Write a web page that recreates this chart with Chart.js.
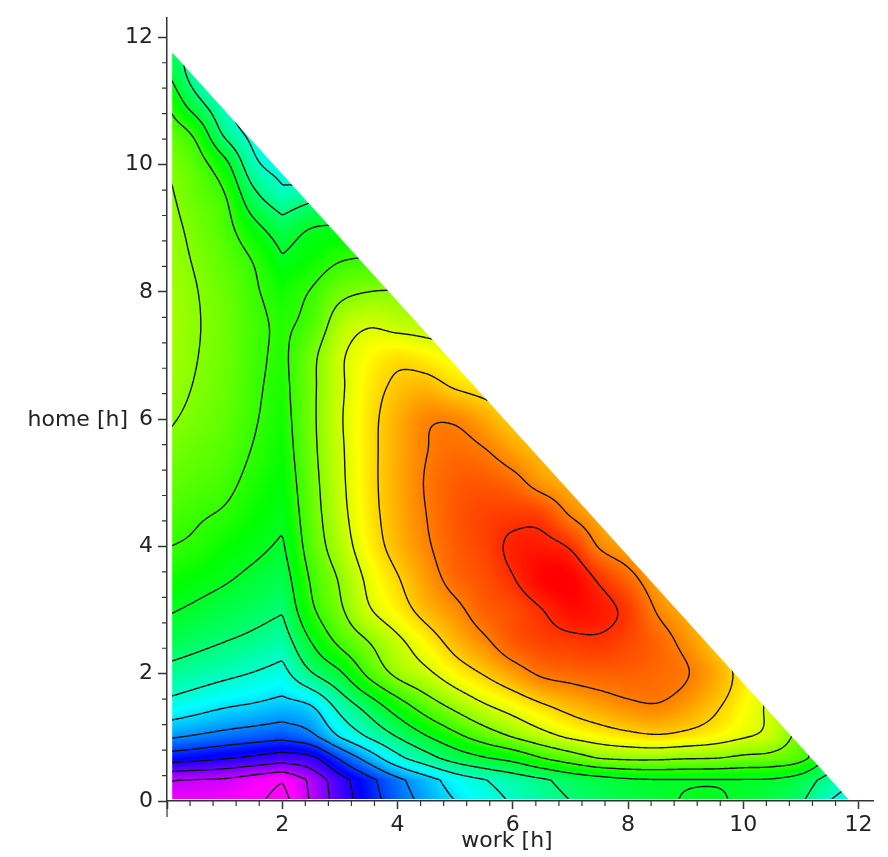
<!DOCTYPE html>
<html>
<head>
<meta charset="utf-8">
<title>work / home</title>
<script src="https://cdn.jsdelivr.net/npm/chart.js@4.4.1/dist/chart.umd.min.js"></script>
<style>
    html, body { margin: 0; padding: 0; background: #fff; }
    #chart { display: block; }
</style>
</head>
<body>
<canvas id="chart" width="888" height="857"></canvas>
<script>
// grid: one row per home value, one column per work value
const workHours = [0, 0.5, 1, 1.5, 2, 2.5, 3, 3.5, 4, 4.5, 5, 5.5, 6, 6.5, 7, 7.5, 8, 8.5, 9, 9.5, 10, 10.5, 11, 11.5, 12];
const homeHours = [0, 0.33, 0.67, 1, 1.5, 2, 2.5, 3, 3.5, 4, 4.5, 5, 5.5, 6, 6.5, 7, 7.5, 8, 8.5, 9, 9.5, 10, 10.5, 11, 11.5, 12];

// level of the surface at each grid node (contour lines sit on whole numbers)
const levelRows = [
    [0.4, 0.4, 0.35, 0.2, -0.4, 1.1, 2.45, 3.55, 4.5, 5.3, 6.0, 6.55, 7.1, 7.55, 8.0, 8.35, 8.6, 8.8, 9.05, 9.1, 8.85, 8.6, 8.1, 7.0, 6.5],
    [1.05, 0.95, 0.85, 0.45, 0.05, 1.2, 2.6, 3.7, 4.75, 5.6, 6.4, 6.95, 7.4, 7.85, 8.3, 8.6, 8.85, 8.95, 8.95, 8.95, 8.95, 8.9, 8.5, 7.6, 6.9],
    [3.5, 3.3, 3.05, 2.8, 2.5, 2.75, 4.1, 5.4, 6.7, 7.6, 8.4, 8.9, 9.3, 9.95, 10.5, 11.0, 11.15, 11.15, 11.05, 11.0, 10.8, 10.7, 10.3, 8.8],
    [5.1, 4.85, 4.6, 4.4, 4.2, 4.7, 6.0, 7.05, 8.0, 8.9, 9.7, 10.4, 11.0, 11.6, 12.1, 12.45, 12.7, 12.85, 12.7, 12.45, 12.05, 11.7, 10.6],
    [6.7, 6.4, 6.1, 5.9, 5.65, 6.0, 7.35, 8.45, 9.55, 10.5, 11.25, 11.9, 12.4, 12.9, 13.3, 13.6, 13.85, 13.95, 13.65, 13.15, 12.5, 11.8],
    [7.7, 7.45, 7.2, 6.95, 6.65, 7.9, 8.85, 10.2, 11.2, 11.8, 12.5, 13.05, 13.6, 14.1, 14.25, 14.35, 14.35, 14.25, 14.05, 13.5, 12.7],
    [8.5, 8.25, 8.0, 7.75, 7.43, 9.0, 10.2, 11.0, 11.8, 12.55, 13.3, 13.85, 14.45, 14.7, 14.82, 14.88, 14.65, 14.3, 13.8, 13.1],
    [9.1, 8.85, 8.6, 8.35, 8.07, 9.8, 10.85, 11.9, 12.6, 13.3, 13.8, 14.35, 14.6, 14.98, 15.35, 15.22, 14.8, 13.95, 13.4],
    [9.6, 9.35, 9.1, 8.8, 8.5, 10.1, 11.1, 12.2, 12.95, 13.65, 14.25, 14.55, 14.97, 15.45, 15.5, 14.88, 14.25, 13.5],
    [10.02, 9.85, 9.5, 9.2, 8.88, 10.4, 11.5, 12.55, 13.3, 13.9, 14.4, 14.7, 15.12, 15.2, 14.92, 13.95, 13.5],
    [10.3, 10.1, 9.9, 9.5, 9.15, 10.55, 11.7, 12.7, 13.4, 14.0, 14.45, 14.7, 14.78, 14.7, 13.95, 13.45],
    [10.6, 10.4, 10.2, 9.75, 9.35, 10.65, 11.8, 12.75, 13.45, 14.05, 14.4, 14.45, 14.25, 13.7, 13.35],
    [10.85, 10.62, 10.4, 9.95, 9.5, 10.75, 11.85, 12.75, 13.45, 13.98, 14.2, 14.05, 13.6, 13.2],
    [11.1, 10.82, 10.55, 10.08, 9.62, 10.8, 11.9, 12.75, 13.4, 13.9, 13.9, 13.5, 13.0],
    [11.3, 10.95, 10.65, 10.15, 9.72, 10.8, 11.85, 12.65, 13.15, 13.3, 12.95, 12.7],
    [11.4, 11.03, 10.7, 10.2, 9.8, 10.75, 11.85, 12.45, 12.75, 12.55, 12.2],
    [11.45, 11.06, 10.72, 10.22, 9.82, 10.3, 11.45, 11.9, 11.7, 11.6],
    [11.4, 11.03, 10.65, 10.12, 9.6, 10.05, 10.75, 11.0, 11.05],
    [11.3, 10.93, 10.5, 9.95, 9.1, 9.5, 9.95, 10.1],
    [11.25, 10.8, 10.3, 9.3, 8.45, 9.0, 9.1],
    [11.15, 10.6, 10.05, 8.3, 7.3, 7.7],
    [10.95, 10.4, 9.3, 7.3, 6.5],
    [10.6, 9.75, 7.8, 6.6],
    [9.9, 8.3, 7.0],
    [8.95, 7.4],
    [8.2],
];

const contourLevels = [0, 1, 2, 3, 4, 5, 6, 7, 8, 9, 10, 11, 12, 13, 14, 15];
const colorLow = 0.3;     // magenta end
const colorHigh = 15.5;   // red end
const domainEdge = 11.85; // work + home limit of the coloured area
const fillStart = { work: 0.09, home: 0.03 };
const creaseWork = 2;     // the surface folds along work = 2
const linearBelow = 1;    // rows under home = 1 are joined by straight lines

const tickValues = [0, 2, 4, 6, 8, 10, 12];
const minorStep = 0.4;
const axisTitles = { x: 'work [h]', y: 'home [h]' };

const textFont = { family: '"DejaVu Sans", sans-serif', size: 22 };
const textColor = '#222';
const axisColor = '#333';

function clamp01(t) {
    return Math.min(1, Math.max(0, t));
}

function findCell(arr, v) {
    let i = 0;
    while (i < arr.length - 2 && v > arr[i + 1]) i++;
    return i;
}

function hermite(p0, p1, m0, m1, t) {
    const t2 = t * t, t3 = t2 * t;
    return (2 * t3 - 3 * t2 + 1) * p0 + (t3 - 2 * t2 + t) * m0 + (-2 * t3 + 3 * t2) * p1 + (t3 - t2) * m1;
}

// node value, carrying a row on past its last node with the end slope
function rowNode(r, k) {
    const row = levelRows[r];
    if (k < 0) return undefined;
    if (k < row.length) return row[k];
    const n = row.length;
    if (n >= 2) return row[n - 1] + (k - n + 1) * (row[n - 1] - row[n - 2]);
    return row[n - 1];
}

function rowValue(r, wx) {
    const i = findCell(workHours, wx);
    const x0 = workHours[i], x1 = workHours[i + 1], h = x1 - x0;
    const v0 = rowNode(r, i), v1 = rowNode(r, i + 1);
    let m0 = (v1 - v0) / h, m1 = m0;
    if (i > 0 && x0 !== creaseWork) m0 = (v1 - rowNode(r, i - 1)) / (x1 - workHours[i - 1]);
    if (i + 2 < workHours.length && x1 !== creaseWork) m1 = (rowNode(r, i + 2) - v0) / (workHours[i + 2] - x0);
    return hermite(v0, v1, m0 * h, m1 * h, clamp01((wx - x0) / h));
}

function valueAt(wx, hy) {
    const j = findCell(homeHours, hy);
    const y0 = homeHours[j], y1 = homeHours[j + 1], h = y1 - y0;
    const a = rowValue(j, wx), b = rowValue(j + 1, wx);
    const t = clamp01((hy - y0) / h);
    if (y1 <= linearBelow) return a + (b - a) * t;
    let m0 = (b - a) / h, m1 = m0;
    if (j > 0) m0 = (b - rowValue(j - 1, wx)) / (y1 - homeHours[j - 1]);
    if (j + 2 < homeHours.length) m1 = (rowValue(j + 2, wx) - a) / (homeHours[j + 2] - y0);
    return hermite(a, b, m0 * h, m1 * h, t);
}

function levelColor(v) {
    const t = clamp01((v - colorLow) / (colorHigh - colorLow));
    const h = 300 * (1 - t) / 60;
    const x = 1 - Math.abs((h % 2) - 1);
    let r = 0, g = 0, b = 0;
    if (h < 1) { r = 1; g = x; }
    else if (h < 2) { r = x; g = 1; }
    else if (h < 3) { g = 1; b = x; }
    else if (h < 4) { g = x; b = 1; }
    else { r = x; b = 1; }
    return [r * 255, g * 255, b * 255];
}

function clipTriangle(ctx, x, y) {
    ctx.beginPath();
    ctx.moveTo(x.getPixelForValue(fillStart.work), y.getPixelForValue(fillStart.home));
    ctx.lineTo(x.getPixelForValue(domainEdge - fillStart.home), y.getPixelForValue(fillStart.home));
    ctx.lineTo(x.getPixelForValue(fillStart.work), y.getPixelForValue(domainEdge - fillStart.work));
    ctx.closePath();
    ctx.clip();
}

const surfacePlugin = {
    id: 'surface',
    beforeDraw(chart) {
        const { ctx, chartArea: area, scales: { x, y } } = chart;
        const left = Math.round(area.left), top = Math.round(area.top);
        const w = Math.round(area.right) - left, h = Math.round(area.bottom) - top;

        // colour fill
        const off = document.createElement('canvas');
        off.width = w;
        off.height = h;
        const octx = off.getContext('2d');
        const img = octx.createImageData(w, h);
        for (let j = 0; j < h; j++) {
            const hy = y.getValueForPixel(top + j + 0.5);
            for (let i = 0; i < w; i++) {
                const wx = x.getValueForPixel(left + i + 0.5);
                if (wx < 0 || hy < 0 || wx + hy > domainEdge + 0.1) continue;
                const [r, g, b] = levelColor(valueAt(wx, hy));
                const k = (j * w + i) * 4;
                img.data[k] = r;
                img.data[k + 1] = g;
                img.data[k + 2] = b;
                img.data[k + 3] = 255;
            }
        }
        octx.putImageData(img, 0, 0);

        ctx.save();
        clipTriangle(ctx, x, y);
        ctx.drawImage(off, left, top);

        // contour lines, marching squares on a fine sample of the grid
        const step = 2;
        const nx = Math.ceil(w / step) + 1, ny = Math.ceil(h / step) + 1;
        const field = [];
        for (let j = 0; j < ny; j++) {
            const row = [];
            const hy = y.getValueForPixel(top + j * step);
            for (let i = 0; i < nx; i++) {
                const wx = x.getValueForPixel(left + i * step);
                if (wx < -0.1 || hy < -0.1 || wx + hy > 12.2) { row.push(NaN); continue; }
                row.push(valueAt(Math.max(wx, 0), Math.max(hy, 0)));
            }
            field.push(row);
        }

        ctx.beginPath();
        for (let j = 0; j < ny - 1; j++) {
            for (let i = 0; i < nx - 1; i++) {
                const v = [field[j][i], field[j][i + 1], field[j + 1][i + 1], field[j + 1][i]];
                if (v.some(isNaN)) continue;
                const px = [left + i * step, left + (i + 1) * step, left + (i + 1) * step, left + i * step];
                const py = [top + j * step, top + j * step, top + (j + 1) * step, top + (j + 1) * step];
                const lo = Math.min(...v), hi = Math.max(...v);
                for (const L of contourLevels) {
                    if (L < lo || L > hi) continue;
                    const pts = [];
                    for (let e = 0; e < 4; e++) {
                        const a = e, b = (e + 1) % 4;
                        if ((v[a] < L) !== (v[b] < L)) {
                            const t = (L - v[a]) / (v[b] - v[a]);
                            pts.push([px[a] + t * (px[b] - px[a]), py[a] + t * (py[b] - py[a])]);
                        }
                    }
                    if (pts.length === 2) {
                        ctx.moveTo(pts[0][0], pts[0][1]);
                        ctx.lineTo(pts[1][0], pts[1][1]);
                    } else if (pts.length === 4) {
                        const centre = (v[0] + v[1] + v[2] + v[3]) / 4;
                        if ((centre < L) === (v[0] < L)) {
                            ctx.moveTo(pts[0][0], pts[0][1]); ctx.lineTo(pts[1][0], pts[1][1]);
                            ctx.moveTo(pts[2][0], pts[2][1]); ctx.lineTo(pts[3][0], pts[3][1]);
                        } else {
                            ctx.moveTo(pts[3][0], pts[3][1]); ctx.lineTo(pts[0][0], pts[0][1]);
                            ctx.moveTo(pts[1][0], pts[1][1]); ctx.lineTo(pts[2][0], pts[2][1]);
                        }
                    }
                }
            }
        }
        ctx.strokeStyle = '#111';
        ctx.lineWidth = 1.4;
        ctx.stroke();
        ctx.restore();
    },
    afterDraw(chart) {
        const { ctx, chartArea: area, scales: { x, y } } = chart;
        ctx.save();
        ctx.strokeStyle = axisColor;
        ctx.lineWidth = 1.2;
        ctx.beginPath();
        // minor ticks
        for (let k = 1; k * minorStep <= 12.001; k++) {
            const v = k * minorStep;
            if (Math.abs(v / 2 - Math.round(v / 2)) < 1e-6) continue;
            const xp = x.getPixelForValue(v);
            ctx.moveTo(xp, area.bottom);
            ctx.lineTo(xp, area.bottom + 5);
            const yp = y.getPixelForValue(v);
            ctx.moveTo(area.left, yp);
            ctx.lineTo(area.left - 5, yp);
        }
        // y axis runs a little below the origin
        ctx.moveTo(area.left, area.bottom);
        ctx.lineTo(area.left, area.bottom + 16);
        ctx.stroke();

        ctx.fillStyle = textColor;
        ctx.font = `${textFont.size}px ${textFont.family}`;
        ctx.textBaseline = 'middle';
        ctx.textAlign = 'right';
        ctx.fillText(axisTitles.y, 128, y.getPixelForValue(6) + 1);
        ctx.textAlign = 'center';
        ctx.fillText(axisTitles.x, x.getPixelForValue(5.9), 841);
        ctx.restore();
    },
};

new Chart(document.getElementById('chart'), {
    type: 'scatter',
    data: { datasets: [{ data: [] }] },
    options: {
        responsive: false,
        animation: false,
        devicePixelRatio: 1,
        layout: { padding: { top: 6, right: 15, bottom: 0, left: 0 } },
        plugins: { legend: { display: false }, tooltip: { enabled: false } },
        scales: {
            x: {
                type: 'linear',
                min: 0,
                max: 12.25,
                afterFit: (scale) => { scale.height = 56; },
                afterBuildTicks: (scale) => { scale.ticks = tickValues.map(v => ({ value: v })); },
                grid: { drawOnChartArea: false, tickLength: 8, tickColor: axisColor, tickWidth: 1.5 },
                border: { color: axisColor, width: 1.5 },
                ticks: {
                    font: textFont,
                    color: textColor,
                    padding: 3,
                    maxRotation: 0,
                    autoSkip: false,
                    callback: (v) => (v === 0 ? '' : String(v)),
                },
            },
            y: {
                type: 'linear',
                min: 0,
                max: 12.3,
                afterFit: (scale) => { scale.width = 167; },
                afterBuildTicks: (scale) => { scale.ticks = tickValues.map(v => ({ value: v })); },
                grid: { drawOnChartArea: false, tickLength: 9, tickColor: axisColor, tickWidth: 1.5 },
                border: { color: axisColor, width: 1.5 },
                ticks: {
                    font: textFont,
                    color: textColor,
                    padding: 5,
                    autoSkip: false,
                    callback: (v) => String(v),
                },
            },
        },
    },
    plugins: [surfacePlugin],
});
</script>
</body>
</html>
